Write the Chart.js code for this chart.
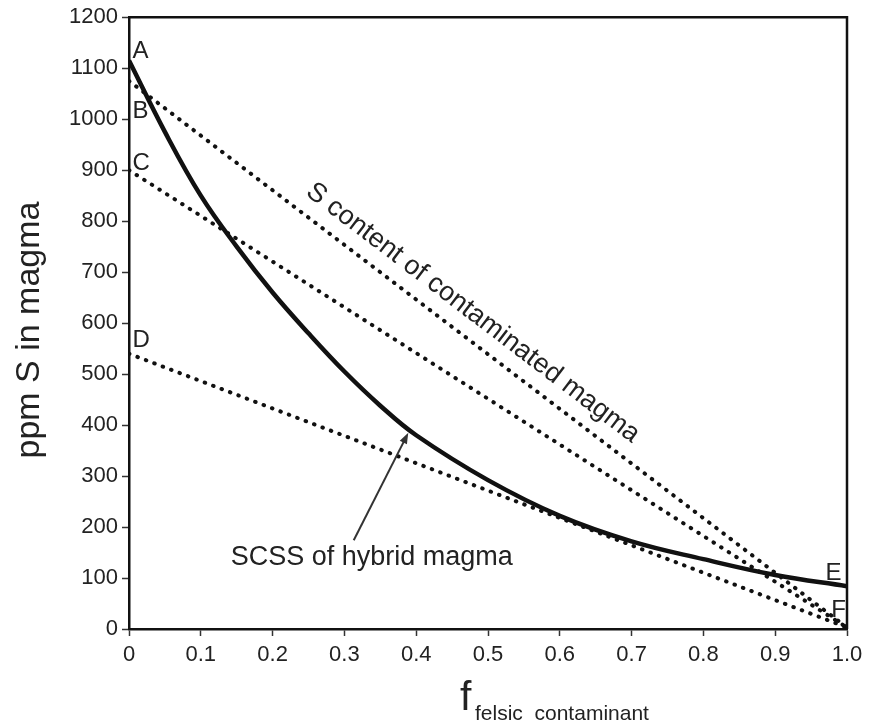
<!DOCTYPE html>
<html>
<head>
<meta charset="utf-8">
<script src="https://cdn.jsdelivr.net/npm/chart.js@4"></script>
<style>
  html, body { margin: 0; padding: 0; background: #fff; }
  canvas { display: block; }
</style>
</head>
<body>
<canvas id="sulfurChart" width="871" height="725"></canvas>
<script>
// fraction of felsic contaminant
const xTicks = [0, 0.1, 0.2, 0.3, 0.4, 0.5, 0.6, 0.7, 0.8, 0.9, 1.0];
const yTicks = [0, 100, 200, 300, 400, 500, 600, 700, 800, 900, 1000, 1100, 1200];

// SCSS of hybrid magma (solid curve A -> E)
const scssFrac = [0, 0.05, 0.1, 0.15, 0.2, 0.25, 0.3, 0.35, 0.4, 0.5, 0.6, 0.7, 0.8, 0.9, 1.0];
const scssPpm = [1115, 975, 850, 750, 660, 580, 505, 438, 380, 292, 222, 172, 137, 106, 84];

// S content of contaminated magma (dotted mixing lines B, C, D -> F)
const mixFrac = [0, 1.0];
const mixB = [1075, 3];
const mixC = [900, 3];
const mixD = [540, 3];

// point labels
const labelNames = ["A", "B", "C", "D", "E", "F"];
const labelFrac = [0.005, 0.005, 0.005, 0.005, 0.970, 0.978];
const labelPpm = [1120, 1003, 901, 554, 96, 23];

const FONT = "'Liberation Sans', Arial, Helvetica, sans-serif";
const INK = "#222";

function toPoints(xs, ys) {
  return xs.map((x, i) => ({ x, y: ys[i] }));
}

function dotted(data) {
  return {
    data,
    borderColor: "#111",
    borderWidth: 4,
    borderDash: [0.5, 8.5],
    borderCapStyle: "round",
    pointRadius: 0,
    tension: 0,
    fill: false,
    order: 1
  };
}

const annotations = {
  id: "annotations",
  afterDraw(chart) {
    const { ctx, chartArea, scales } = chart;
    const xs = scales.x;
    const ys = scales.y;
    ctx.save();

    // frame top / right
    ctx.strokeStyle = "#111";
    ctx.lineWidth = 2.5;
    ctx.beginPath();
    ctx.moveTo(chartArea.left, chartArea.top);
    ctx.lineTo(chartArea.right, chartArea.top);
    ctx.lineTo(chartArea.right, chartArea.bottom);
    ctx.stroke();

    // A..F letters
    ctx.fillStyle = INK;
    ctx.font = `24px ${FONT}`;
    ctx.textAlign = "left";
    ctx.textBaseline = "alphabetic";
    labelNames.forEach((name, i) => {
      ctx.fillText(name, xs.getPixelForValue(labelFrac[i]), ys.getPixelForValue(labelPpm[i]));
    });

    // rotated text along line B
    const bx0 = xs.getPixelForValue(mixFrac[0]);
    const by0 = ys.getPixelForValue(mixB[0]);
    const bx1 = xs.getPixelForValue(mixFrac[1]);
    const by1 = ys.getPixelForValue(mixB[1]);
    const angle = Math.atan2(by1 - by0, bx1 - bx0);
    ctx.save();
    ctx.translate(xs.getPixelForValue(0.479), ys.getPixelForValue(620));
    ctx.rotate(angle);
    ctx.font = `27px ${FONT}`;
    ctx.textAlign = "center";
    ctx.textBaseline = "middle";
    ctx.fillText("S content of contaminated magma", 0, 0);
    ctx.restore();

    // SCSS label and arrow
    ctx.font = `27px ${FONT}`;
    ctx.textAlign = "center";
    ctx.textBaseline = "middle";
    ctx.fillText("SCSS of hybrid magma", xs.getPixelForValue(0.338), ys.getPixelForValue(140));

    const tx = xs.getPixelForValue(0.313);
    const ty = ys.getPixelForValue(174);
    const hx = xs.getPixelForValue(0.389);
    const hy = ys.getPixelForValue(385);
    const a = Math.atan2(hy - ty, hx - tx);
    ctx.strokeStyle = "#333";
    ctx.fillStyle = "#333";
    ctx.lineWidth = 2;
    ctx.beginPath();
    ctx.moveTo(tx, ty);
    ctx.lineTo(hx - 8 * Math.cos(a), hy - 8 * Math.sin(a));
    ctx.stroke();
    ctx.beginPath();
    ctx.moveTo(hx, hy);
    ctx.lineTo(hx - 11 * Math.cos(a) + 4 * Math.sin(a), hy - 11 * Math.sin(a) - 4 * Math.cos(a));
    ctx.lineTo(hx - 11 * Math.cos(a) - 4 * Math.sin(a), hy - 11 * Math.sin(a) + 4 * Math.cos(a));
    ctx.closePath();
    ctx.fill();

    // y axis title
    ctx.fillStyle = INK;
    ctx.save();
    ctx.translate(30, 330);
    ctx.rotate(-Math.PI / 2);
    ctx.font = `34px ${FONT}`;
    ctx.textAlign = "center";
    ctx.textBaseline = "middle";
    ctx.fillText("ppm S in magma", 0, 0);
    ctx.restore();

    // x axis title with subscript
    ctx.textAlign = "left";
    ctx.textBaseline = "alphabetic";
    ctx.font = `41px ${FONT}`;
    ctx.fillText("f", 460, 710);
    ctx.font = `21px ${FONT}`;
    ctx.fillText("felsic  contaminant", 475, 720);

    ctx.restore();
  }
};

new Chart(document.getElementById("sulfurChart").getContext("2d"), {
  type: "line",
  data: {
    datasets: [
      {
        data: toPoints(scssFrac, scssPpm),
        borderColor: "#111",
        borderWidth: 4.5,
        tension: 0.4,
        borderJoinStyle: "round",
        pointRadius: 0,
        fill: false,
        order: 0
      },
      dotted(toPoints(mixFrac, mixB)),
      dotted(toPoints(mixFrac, mixC)),
      dotted(toPoints(mixFrac, mixD))
    ]
  },
  options: {
    responsive: false,
    animation: false,
    layout: {
      padding: { left: 0, right: 24, top: 14, bottom: 0 }
    },
    scales: {
      x: {
        type: "linear",
        min: 0,
        max: 1,
        afterFit: (scale) => { scale.height = 96; },
        afterBuildTicks: (scale) => { scale.ticks = xTicks.map((v) => ({ value: v })); },
        ticks: {
          color: INK,
          padding: 6,
          maxRotation: 0,
          font: { family: FONT, size: 22 },
          callback: (v) => (v === 0 ? "0" : v.toFixed(1))
        },
        grid: {
          drawOnChartArea: false,
          tickLength: 7,
          tickColor: "#333",
          tickWidth: 1.5
        },
        border: { color: "#111", width: 2.5 }
      },
      y: {
        min: 0,
        max: 1200,
        afterFit: (scale) => { scale.width = 129; },
        afterBuildTicks: (scale) => { scale.ticks = yTicks.map((v) => ({ value: v })); },
        ticks: {
          color: INK,
          padding: 4,
          font: { family: FONT, size: 22 },
          callback: (v) => String(v)
        },
        grid: {
          drawOnChartArea: false,
          tickLength: 7,
          tickColor: "#333",
          tickWidth: 1.5
        },
        border: { color: "#111", width: 2.5 }
      }
    },
    plugins: {
      legend: { display: false },
      tooltip: { enabled: false }
    }
  },
  plugins: [annotations]
});
</script>
</body>
</html>
